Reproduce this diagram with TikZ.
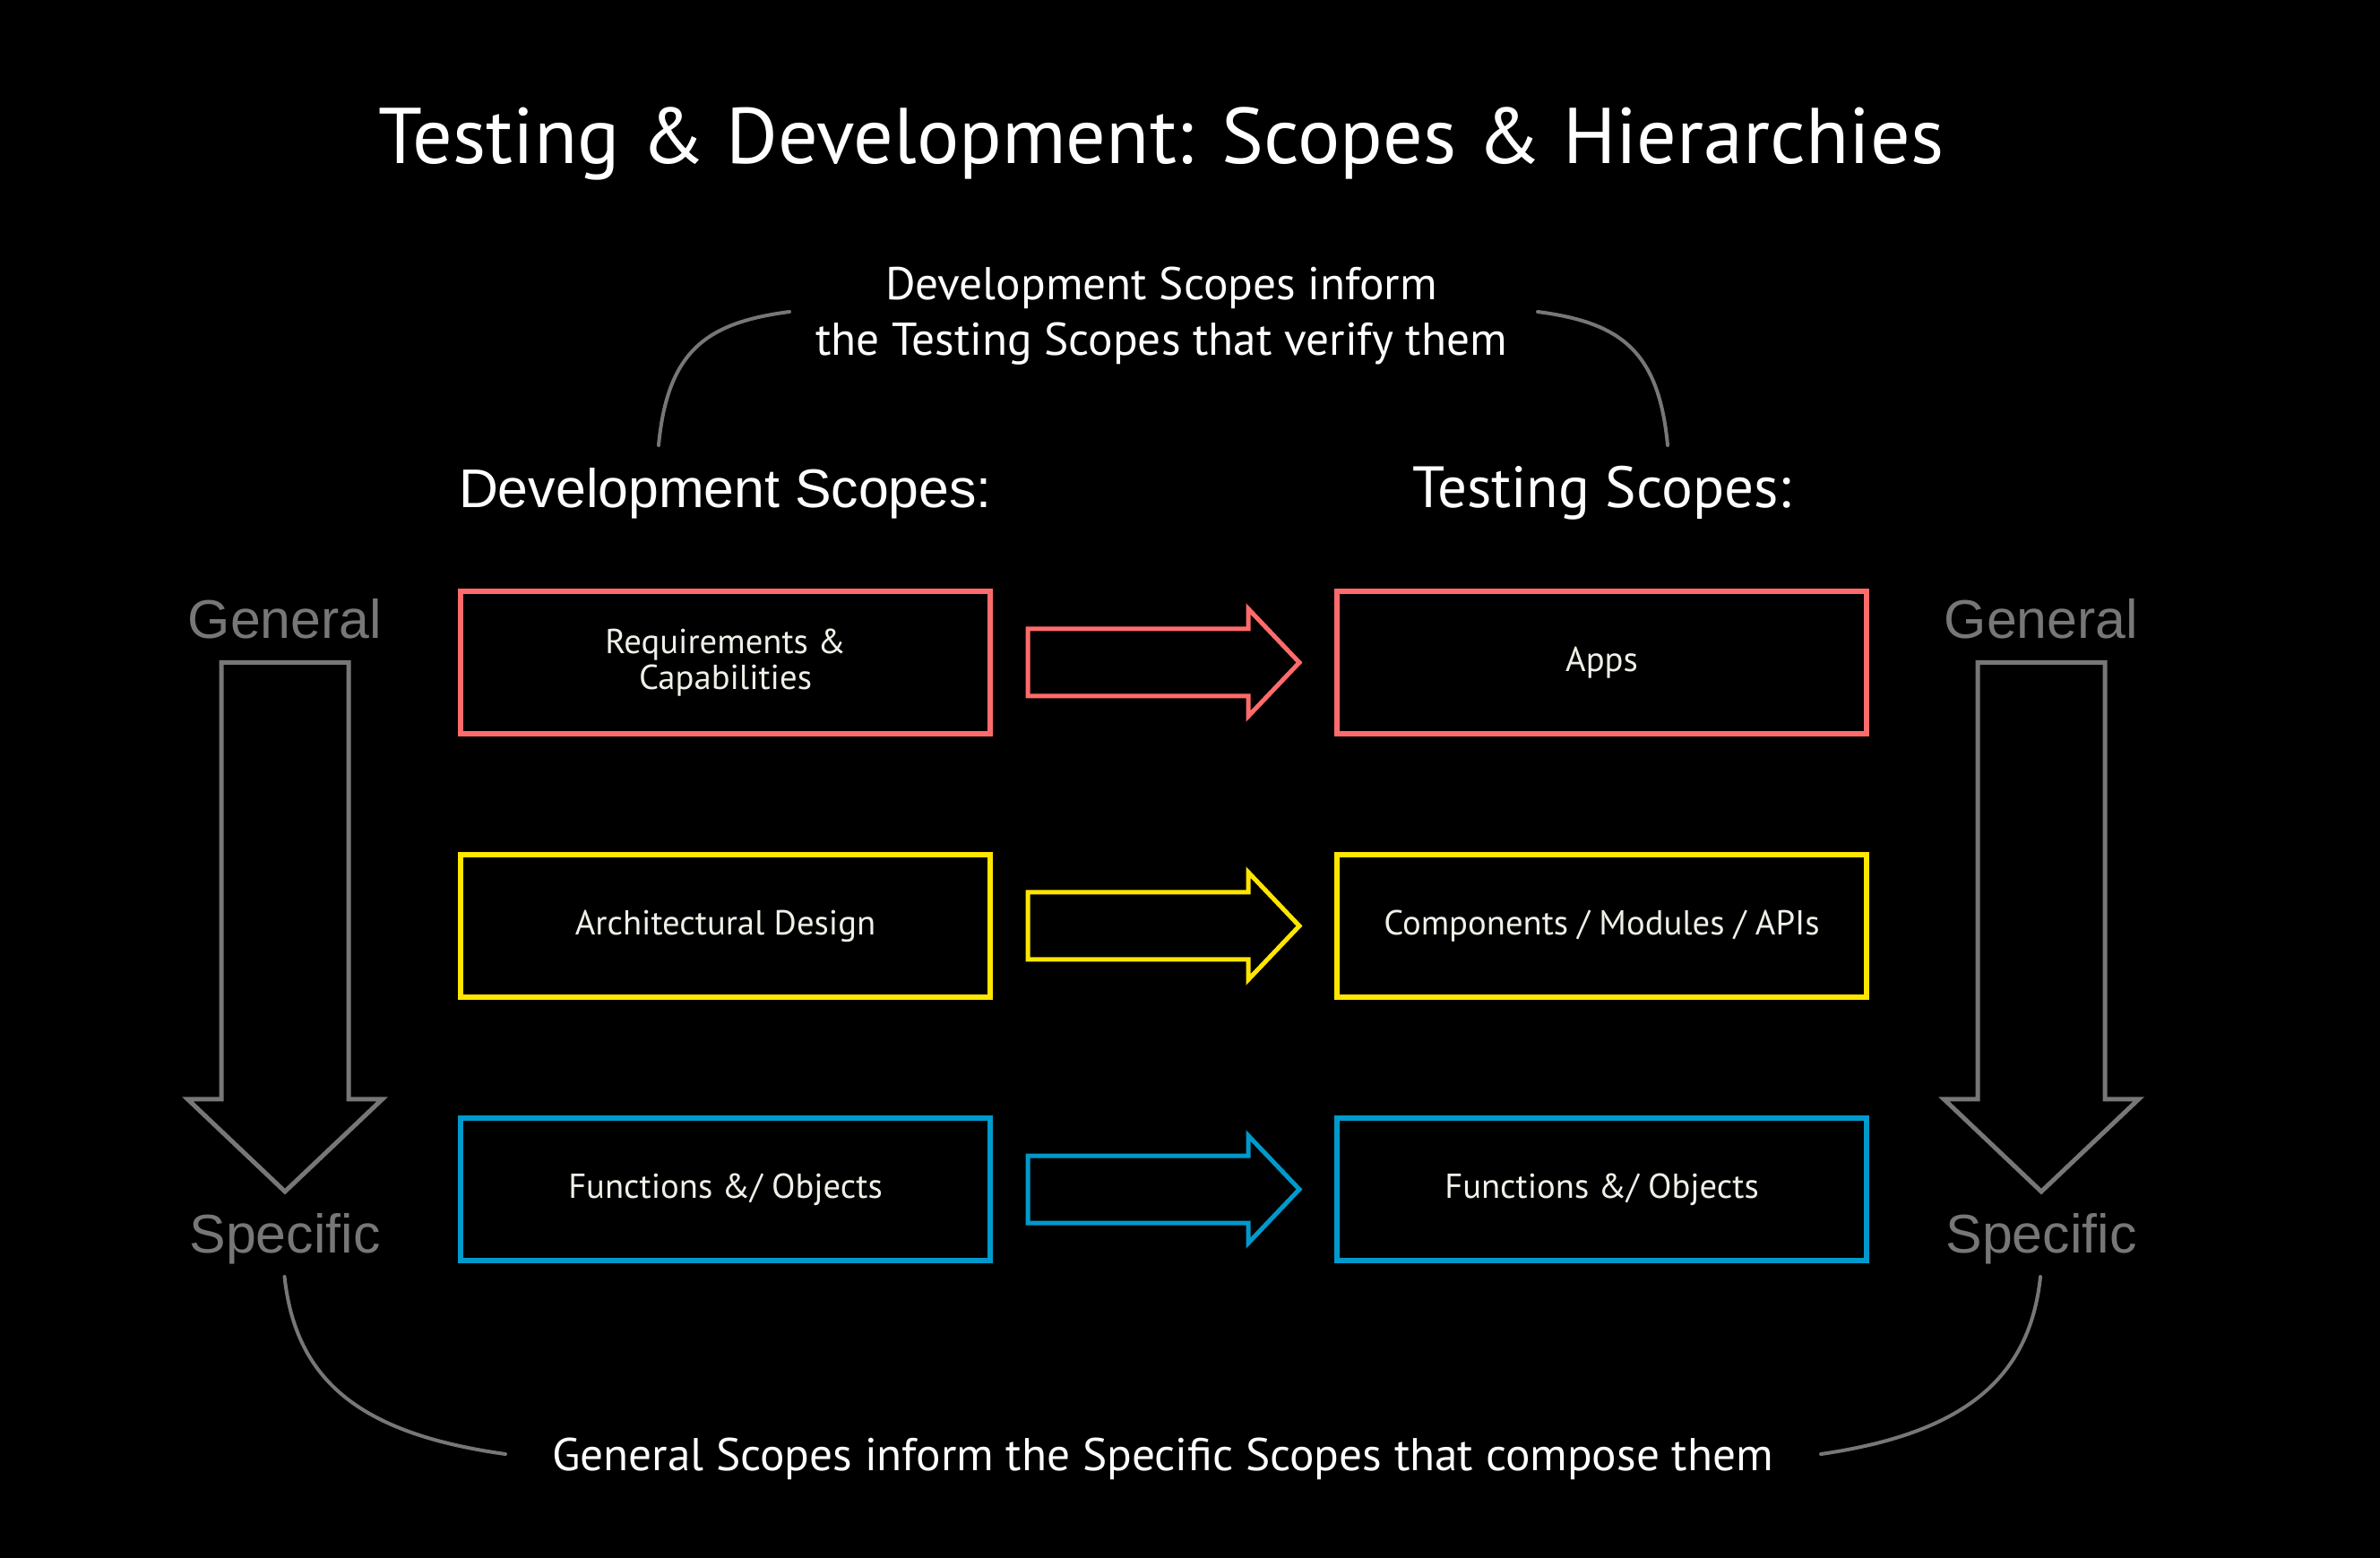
\documentclass[tikz,border=0pt]{standalone}
\usepackage{fontspec}
\setmainfont{PT Sans}
\newfontfamily\helv{Liberation Sans}
\usetikzlibrary{positioning, calc}
\definecolor{scopered}{HTML}{FF6B6B}
\definecolor{scopeyellow}{HTML}{FFE500}
\definecolor{scopeblue}{HTML}{0099CC}
\definecolor{scopegray}{HTML}{777777}
\definecolor{boxtext}{HTML}{F0F0E8}

\begin{document}
\begin{tikzpicture}[
  box/.style={rectangle, draw, line width=0.06cm, minimum width=5.91cm,
    minimum height=1.59cm, outer sep=0pt, inner sep=0pt, align=center,
    text=boxtext, font=\fontsize{11}{11.2}\selectfont},
  fatarrow/.style={line width=0.05cm, line join=miter},
  bigarrow/.style={draw=scopegray, line width=0.05cm, line join=miter},
  curvelink/.style={draw=scopegray, line width=0.04cm, line cap=round},
  side/.style={font=\helv\fontsize{17.3}{20}\selectfont, text=scopegray,
    inner sep=0pt, anchor=base},
  note/.style={font=\fontsize{14.6}{17.6}\selectfont, text=white, inner sep=0pt, align=center},
]
  \fill[black] (0,0) rectangle (26.56,-17.39);
  \useasboundingbox (0,0) rectangle (26.56,-17.39);

  \node[font=\fontsize{25.1}{28}\selectfont, text=white, anchor=base] (title)
    at (12.96,-1.83) {Testing \& Development: Scopes \& Hierarchies};
  \node[note] (topnote) at (12.96,-3.53)
    {Development Scopes inform\\the Testing Scopes that verify them};

  % scope boxes
  \node[box, draw=scopered] (req) at (8.095,-7.395) {Requirements \&\\Capabilities};
  \node[box, draw=scopeyellow, below=1.35cm of req] (arch) {Architectural Design};
  \node[box, draw=scopeblue, below=1.35cm of arch] (fundev) {Functions \&/ Objects};
  \node[box, draw=scopered, right=3.87cm of req] (apps) {Apps};
  \node[box, draw=scopeyellow, right=3.87cm of arch] (comp) {Components / Modules / APIs};
  \node[box, draw=scopeblue, right=3.87cm of fundev] (funtest) {Functions \&/ Objects};

  \node[font=\helv\fontsize{17.3}{20}\selectfont, text=white, inner sep=0pt, anchor=base]
    (devtitle) at (8.095,-5.67) {Development Scopes:};
  \node[font=\fontsize{18.5}{20}\selectfont, text=white, inner sep=0pt, anchor=base]
    (testtitle) at (17.875,-5.67) {Testing Scopes:};

  \node[side] (genL) at (3.18,-7.13) {General};
  \node[side] (speL) at (3.18,-13.98) {Specific};
  \node[side] (genR) at (22.78,-7.13) {General};
  \node[side] (speR) at (22.78,-13.98) {Specific};

  \node[note, anchor=base] (botnote) at (12.975,-16.41)
    {General Scopes inform the Specific Scopes that compose them};

  % development -> testing
  \foreach \a/\b/\c in {req/apps/scopered, arch/comp/scopeyellow, fundev/funtest/scopeblue}{
    \draw[fatarrow, draw=\c] ($(\a.east)+(0.42,0.375)$) -- ($(\b.west)+(-0.99,0.375)$)
      -- ++(0,0.225) -- ($(\b.west)+(-0.42,0)$) -- ($(\b.west)+(-0.99,-0.6)$)
      -- ++(0,0.225) -- ($(\a.east)+(0.42,-0.375)$) -- cycle;
  }

  % general -> specific
  \foreach \g/\s in {genL/speL, genR/speR}{
    \draw[bigarrow] ($(\g.base)+(-0.71,-0.265)$) -- ($(\s.base)+(-0.71,1.71)$)
      -- ++(-0.375,0) -- ($(\s.base)+(0,0.68)$) -- ($(\s.base)+(1.085,1.71)$)
      -- ++(-0.375,0) -- ($(\g.base)+(0.71,-0.265)$) -- cycle;
  }

  \coordinate (tl) at (7.35,-4.97);
  \coordinate (tr) at (18.61,-4.97);
  \coordinate (bl) at (5.64,-16.23);
  \coordinate (br) at (20.32,-16.23);
  \draw[curvelink] (tl) .. controls (7.45,-3.9) and (7.9,-3.6) .. (8.81,-3.48);
  \draw[curvelink] (17.16,-3.48) .. controls (18.07,-3.6) and (18.51,-3.9) .. (tr);
  \draw[curvelink] (3.175,-14.25) .. controls (3.3,-15.4) and (4.0,-16.0) .. (bl);
  \draw[curvelink] (22.77,-14.25) .. controls (22.65,-15.4) and (21.9,-16.0) .. (br);
\end{tikzpicture}
\end{document}
